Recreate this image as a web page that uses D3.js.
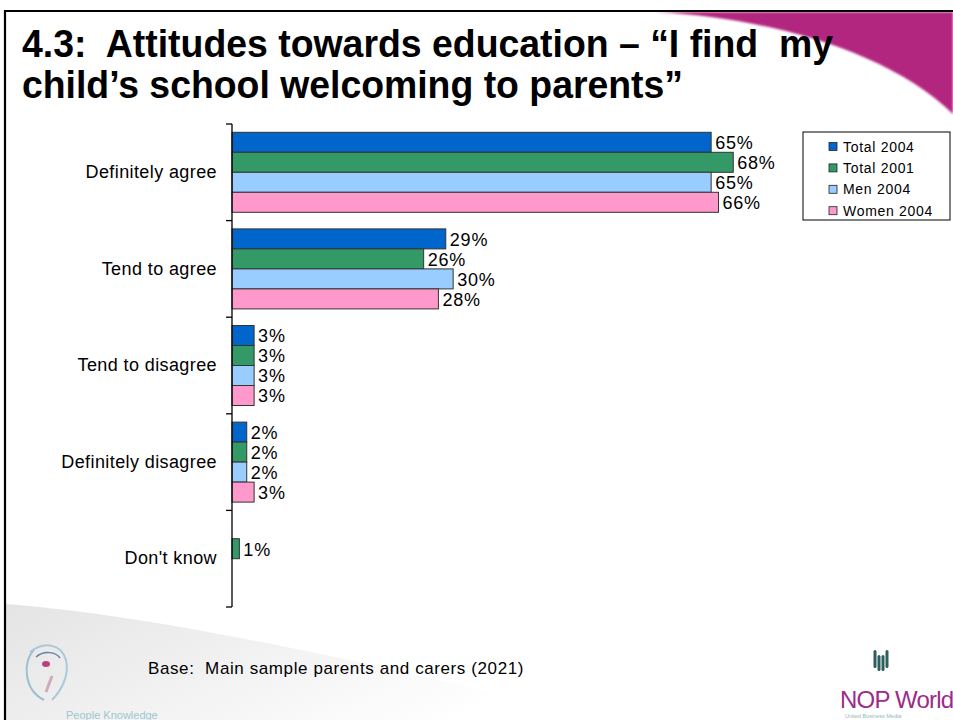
<!DOCTYPE html>
<html>
<head>
<meta charset="utf-8">
<script src="https://cdn.jsdelivr.net/npm/d3@7"></script>
<style>
  html, body { margin: 0; padding: 0; background: #fff; }
  svg { display: block; }
  svg text { white-space: pre; }
</style>
</head>
<body>
<svg id="chart" width="953" height="720"></svg>
<script>
// Survey responses, % of parents and carers
const categories = ["Definitely agree", "Tend to agree", "Tend to disagree", "Definitely disagree", "Don't know"];
const seriesNames = ["Total 2004", "Total 2001", "Men 2004", "Women 2004"];
const total2004 = [65, 29, 3, 2, null];
const total2001 = [68, 26, 3, 2, 1];
const men2004   = [65, 30, 3, 2, null];
const women2004 = [66, 28, 3, 3, null];
const seriesColors = ["#0066CC", "#339966", "#99CCFF", "#FF99CC"];

const titleLines = [
  "4.3:  Attitudes towards education \u2013 \u201CI find  my",
  "child\u2019s school welcoming to parents\u201D"
];
const baseNote = "Base:  Main sample parents and carers (2021)";

const seriesValues = [total2004, total2001, men2004, women2004];

const svg = d3.select("#chart");
const defs = svg.append("defs");

// ---- slide decoration ----
const grayGrad = defs.append("linearGradient").attr("id", "graySweep")
  .attr("x1", "0").attr("y1", "0").attr("x2", "1").attr("y2", "0.4");
grayGrad.append("stop").attr("offset", "0").attr("stop-color", "#e4e4e4");
grayGrad.append("stop").attr("offset", "0.55").attr("stop-color", "#f3f3f3");
grayGrad.append("stop").attr("offset", "1").attr("stop-color", "#ffffff");

defs.append("filter").attr("id", "soft")
  .append("feGaussianBlur").attr("stdDeviation", 1.2);

svg.append("path")
  .attr("d", "M5,604 C120,612 330,650 600,720 L5,720 Z")
  .attr("fill", "url(#graySweep)");

svg.append("path")
  .attr("d", "M655,12 C760,17 885,48 953,114 L953,12 Z")
  .attr("fill", "#B3287F")
  .attr("filter", "url(#soft)");

// frame lines
svg.append("line").attr("x1", 4).attr("x2", 953).attr("y1", 11).attr("y2", 11)
  .attr("stroke", "#000").attr("stroke-width", 2.2);
svg.append("line").attr("x1", 5).attr("x2", 5).attr("y1", 10).attr("y2", 720)
  .attr("stroke", "#000").attr("stroke-width", 2.2);

// ---- title ----
const titleWidths = [811, 661];
svg.append("g").selectAll("text").data(titleLines).join("text")
  .attr("x", 22)
  .attr("y", (d, i) => 57 + i * 41)
  .attr("font-family", "'Liberation Sans Narrow', 'Arial Narrow', 'Liberation Sans', Arial, sans-serif")
  .attr("font-weight", "bold")
  .attr("font-size", 38)
  .attr("textLength", (d, i) => titleWidths[i])
  .attr("lengthAdjust", "spacingAndGlyphs")
  .attr("fill", "#000")
  .text(d => d);

// ---- scales ----
const x = d3.scaleLinear().domain([0, 70]).range([232, 748]);
const y = d3.scaleBand().domain(categories).range([124, 607]).padding(0);
const ySub = d3.scaleBand().domain(seriesNames).range([0, y.bandwidth()])
  .paddingInner(0).paddingOuter(0.415);

const rows = [];
categories.forEach((c, ci) => {
  seriesNames.forEach((s, si) => {
    rows.push({ category: c, series: s, si, value: seriesValues[si][ci] });
  });
});
const present = rows.filter(r => r.value != null);

// ---- bars ----
svg.append("g").selectAll("rect").data(present).join("rect")
  .attr("x", x(0))
  .attr("y", d => y(d.category) + ySub(d.series))
  .attr("width", d => x(d.value) - x(0))
  .attr("height", ySub.bandwidth())
  .attr("fill", d => seriesColors[d.si])
  .attr("stroke", "#333")
  .attr("stroke-width", 1);

// ---- value labels ----
svg.append("g").selectAll("text").data(present).join("text")
  .attr("x", d => x(d.value) + 4)
  .attr("y", d => y(d.category) + ySub(d.series) + ySub.bandwidth() / 2)
  .attr("dy", "0.38em")
  .attr("font-family", "'Liberation Sans', Arial, sans-serif")
  .attr("font-size", 18)
  .attr("letter-spacing", 0.8)
  .attr("fill", "#000")
  .text(d => d.value + "%");

// ---- category axis ----
const axis = svg.append("g").attr("transform", `translate(${x(0)},0)`)
  .call(d3.axisLeft(y).tickSize(0).tickPadding(15));
axis.select(".domain").remove();
axis.selectAll("text")
  .attr("font-family", "'Liberation Sans', Arial, sans-serif")
  .attr("font-size", 18)
  .attr("letter-spacing", 0.4)
  .attr("fill", "#000");

// axis line with ticks at band boundaries
const bounds = categories.map(c => y(c)).concat([y.range()[1]]);
svg.append("line").attr("x1", x(0)).attr("x2", x(0))
  .attr("y1", bounds[0]).attr("y2", bounds[bounds.length - 1])
  .attr("stroke", "#000").attr("stroke-width", 1.3);
svg.append("g").selectAll("line").data(bounds).join("line")
  .attr("x1", x(0) - 6).attr("x2", x(0))
  .attr("y1", d => d).attr("y2", d => d)
  .attr("stroke", "#000").attr("stroke-width", 1.3);

// ---- legend ----
const legend = svg.append("g").attr("transform", "translate(803,132)");
legend.append("rect").attr("width", 147).attr("height", 88)
  .attr("fill", "#fff").attr("stroke", "#000").attr("stroke-width", 1);
const li = legend.selectAll("g").data(seriesNames).join("g")
  .attr("transform", (d, i) => `translate(26,${10.5 + i * 21.4})`);
li.append("rect").attr("width", 8).attr("height", 8)
  .attr("fill", (d, i) => seriesColors[i]).attr("stroke", "#222").attr("stroke-width", 0.8);
li.append("text").attr("x", 14).attr("y", 4).attr("dy", "0.36em")
  .attr("font-family", "'Liberation Sans', Arial, sans-serif")
  .attr("font-size", 14).attr("letter-spacing", 0.7)
  .attr("fill", "#000")
  .text(d => d);

// ---- footer ----
svg.append("text").attr("x", 148).attr("y", 674)
  .attr("font-family", "'Liberation Sans', Arial, sans-serif")
  .attr("font-size", 17).attr("letter-spacing", 0.6)
  .attr("fill", "#000").text(baseNote);

// left logo
const pk = svg.append("g").attr("opacity", 0.85);
pk.append("path").attr("d", "M34,650 C22,662 24,690 44,700")
  .attr("fill", "none").attr("stroke", "#8fb8d0").attr("stroke-width", 2);
pk.append("path").attr("d", "M30,652 C45,640 62,645 66,660 C70,676 60,692 52,700")
  .attr("fill", "none").attr("stroke", "#9ec4d8").attr("stroke-width", 2);
pk.append("path").attr("d", "M36,657 C44,650 56,652 60,658")
  .attr("fill", "none").attr("stroke", "#4a6f9a").attr("stroke-width", 1.5);
pk.append("ellipse").attr("cx", 46).attr("cy", 664).attr("rx", 4).attr("ry", 3)
  .attr("fill", "#b0246e");
pk.append("path").attr("d", "M52,676 L46,692").attr("stroke", "#c8a0b4").attr("stroke-width", 3);
svg.append("text").attr("x", 66).attr("y", 719)
  .attr("font-family", "'Liberation Sans', Arial, sans-serif")
  .attr("font-size", 11).attr("fill", "#9ec6cf")
  .text("People Knowledge");

// right logo: globe mark
const nop = svg.append("g").attr("fill", "#2e5e5e");
[-6, -2, 2, 6].forEach(dx => {
  nop.append("rect").attr("x", 881 + dx - 1.5).attr("y", dx === -2 || dx === 2 ? 655 : 650)
    .attr("width", 3).attr("height", dx === -2 || dx === 2 ? 16 : 18)
    .attr("rx", 1.5);
});
svg.append("text").attr("x", 840).attr("y", 708)
  .attr("font-family", "'Liberation Sans', Arial, sans-serif")
  .attr("font-size", 24).attr("letter-spacing", -0.8).attr("fill", "#9c2c86")
  .text("NOP World");
svg.append("text").attr("x", 845).attr("y", 718)
  .attr("font-family", "'Liberation Sans', Arial, sans-serif")
  .attr("font-size", 5.5).attr("fill", "#8fb7b7")
  .text("United Business Media");
</script>
</body>
</html>
